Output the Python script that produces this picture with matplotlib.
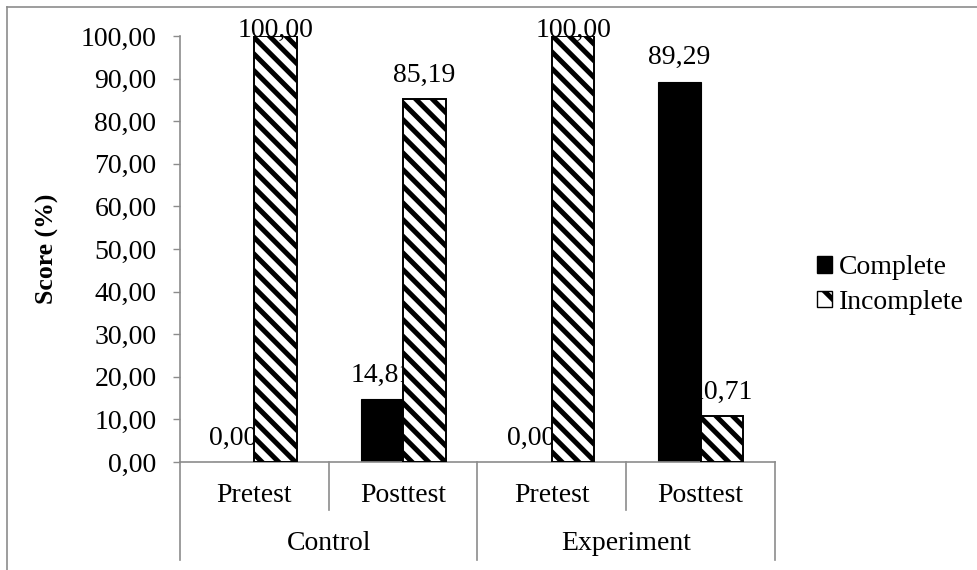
import matplotlib
matplotlib.use("Agg")
import matplotlib.pyplot as plt
from matplotlib.lines import Line2D
from matplotlib.patches import Patch
import matplotlib.transforms as mtransforms

# ---- data ----
groups = ["Control", "Experiment"]
phases = ["Pretest", "Posttest", "Pretest", "Posttest"]
complete = [0.00, 14.81, 0.00, 89.29]
incomplete = [100.00, 85.19, 100.00, 10.71]
series_names = ["Complete", "Incomplete"]
yticks = [0, 10, 20, 30, 40, 50, 60, 70, 80, 90, 100]

def fmt(v):
    return f"{v:.2f}".replace(".", ",")

plt.rcParams["font.family"] = ["Liberation Serif", "DejaVu Serif"]
plt.rcParams["hatch.linewidth"] = 3.6
FS = 20

fig = plt.figure(figsize=(9.78, 5.70), dpi=100)
ax = fig.add_axes([180/978, 1-462/570, 595/978, 426/570])

gray = "#8c8c8c"
w = 0.285
x = list(range(len(phases)))
xc = [i - w/2 for i in x]
xi = [i + w/2 for i in x]
HATCH = "\\\\"

ax.bar(xc, complete, width=w, color="black", edgecolor="black", linewidth=0.8, zorder=2)
ax.bar(xi, incomplete, width=w, color="white", edgecolor="black", hatch=HATCH,
       linewidth=1.4, zorder=3)

off = 4.1
for xx, v in zip(xc, complete):
    ax.text(xx, min(v + off, 99.8), fmt(v), ha="center", va="baseline",
            fontsize=FS, zorder=2.5)
for xx, v in zip(xi, incomplete):
    ax.text(xx, min(v + off, 99.8), fmt(v), ha="center", va="baseline",
            fontsize=FS, zorder=4)

ax.set_xlim(-0.5, len(phases) - 0.5)
ax.set_ylim(0, 100)
ax.set_yticks(yticks)
ax.set_yticklabels([fmt(v) for v in yticks], fontsize=FS)
ax.tick_params(axis="y", direction="out", length=5, width=1, color=gray, pad=12)
ax.set_xticks([])
for s in ["top", "right"]:
    ax.spines[s].set_visible(False)
for s in ["left", "bottom"]:
    ax.spines[s].set_color(gray)
    ax.spines[s].set_linewidth(1.2)

ax.set_ylabel("Score (%)", fontsize=18.5, fontweight="bold")
ax.yaxis.set_label_coords(-0.203, 0.5)

# multi-level category axis
trans = mtransforms.blended_transform_factory(ax.transData, ax.transAxes)
lvl1 = -48/426
lvl2 = -98/426
for b in [-0.5, 1.5, 3.5]:
    ax.add_line(Line2D([b, b], [0, lvl2], transform=trans, color=gray, lw=1.2, clip_on=False))
for b in [0.5, 2.5]:
    ax.add_line(Line2D([b, b], [0, lvl1], transform=trans, color=gray, lw=1.2, clip_on=False))
for i, p in enumerate(phases):
    ax.text(i, -33/426, p, transform=trans, ha="center", va="center", fontsize=FS)
for g, gname in enumerate(groups):
    ax.text(2*g + 0.5, -81/426, gname, transform=trans, ha="center", va="center", fontsize=FS)

# legend
handles = [Patch(facecolor="black", edgecolor="black", label=series_names[0]),
           Patch(facecolor="white", edgecolor="black", hatch="\\", label=series_names[1])]
fig.legend(handles=handles, loc="center left", bbox_to_anchor=(806/978, 1-285/570),
           frameon=False, fontsize=FS, handlelength=0.55, handleheight=0.55,
           handletextpad=0.25, labelspacing=0.35, borderaxespad=0)

# outer chart border (top and left)
fig.add_artist(Line2D([7/978, 1], [1-6.5/570, 1-6.5/570], transform=fig.transFigure, color=gray, lw=1.2))
fig.add_artist(Line2D([7/978, 7/978], [0, 1-6.5/570], transform=fig.transFigure, color=gray, lw=1.2))

fig.savefig("out.png", dpi=100)
